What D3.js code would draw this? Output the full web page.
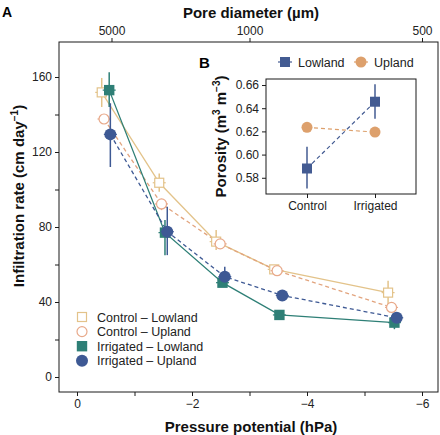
<!DOCTYPE html>
<html><head><meta charset="utf-8">
<script src="https://cdn.jsdelivr.net/npm/d3@7"></script>
<style>body{margin:0;background:#fff}svg{display:block}text{font-family:"Liberation Sans",Arial,sans-serif}</style>
</head><body><svg id="c" width="440" height="435"></svg>
<script>
// ---- data (panel A) ----
const seriesNames = ["Control – Lowland","Control – Upland","Irrigated – Lowland","Irrigated – Upland"];
const pressureCL = [-0.43,-1.43,-2.42,-3.43,-5.41];
const pressureCU = [-0.47,-1.47,-2.49,-3.48,-5.47];
const pressureIL = [-0.56,-1.53,-2.53,-3.52,-5.52];
const pressureIU = [-0.58,-1.57,-2.57,-3.57,-5.56];
const rateCL = [151.8,103.6,72.2,57.4,45.0];
const rateCU = [137.6,92.3,71.0,56.7,37.1];
const rateIL = [153.0,77.0,50.3,33.1,29.0];
const rateIU = [129.4,77.5,53.5,43.5,31.6];
const lowCL = [144,98.8,67.7,55.5,38.0];
const highCL = [159.5,108.6,78.4,59.3,51.4];
const lowCU = [135,89,68.5,55,34.5];
const highCU = [140,95,73.5,58.5,39.5];
const lowIL = [144,65,48,31.5,25.5];
const highIL = [162.5,83.7,52.5,34.7,31.5];
const lowIU = [112,65,50.8,42,30];
const highIU = [146,90.8,58.8,45,33.2];
const yTicks = [0,20,40,60,80,100,120,140,160];
const yTickLabels = ["0","","40","","80","","120","","160"];
const xTicks = [0,-1,-2,-3,-4,-5,-6];
const xTickLabels = ["0","","−2","","−4","","−6"];
const poreTicks = [5000,1000,500];
// ---- data (panel B) ----
const treatments = ["Control","Irrigated"];
const porLowland = [0.588,0.6456];
const porLowlandLo = [0.5708,0.631];
const porLowlandHi = [0.6067,0.6606];
const porUpland = [0.6235,0.6194];
const porUplandLo = [0.6215,0.6165];
const porUplandHi = [0.6255,0.6225];
const porTicks = [0.58,0.60,0.62,0.64,0.66];

const svg = d3.select("#c");
const col = {CL:"#E3C38A", CU:"#E8A98A", IL:"#2E7F76", IU:"#3E5994", lineCU:"#E2A47E"};

const x = d3.scaleLinear().domain([0.313,-6.278]).range([59,438]);
const y = d3.scaleLinear().domain([-8,178.67]).range([392,42]);

// panel frame
const g = svg.append("g");
g.append("rect").attr("x",59).attr("y",42).attr("width",379).attr("height",350)
 .attr("fill","none").attr("stroke","#1a1a1a").attr("stroke-width",1);

// axes
const axL = d3.axisLeft(y).tickValues(yTicks).tickFormat((d,i)=>yTickLabels[i]).tickSize(4).tickPadding(3);
const axB = d3.axisBottom(x).tickValues(xTicks).tickFormat((d,i)=>xTickLabels[i]).tickSize(4).tickPadding(3);
const poreToP = d => -3000/d;
const axT = d3.axisTop(x).tickValues(poreTicks.map(poreToP)).tickFormat((d,i)=>String(poreTicks[i])).tickSize(4).tickPadding(3);
function styleAx(sel){sel.select(".domain").remove();sel.selectAll("line").attr("stroke","#1a1a1a");
 sel.selectAll("text").attr("font-size",12).attr("fill","#222").attr("font-family","Liberation Sans, Arial, sans-serif");}
g.append("g").attr("transform","translate(59,0)").call(axL).call(styleAx);
g.append("g").attr("transform","translate(0,392)").call(axB).call(styleAx);
g.append("g").attr("transform","translate(0,42)").call(axT).call(styleAx);

// titles
svg.append("text").attr("x",251).attr("y",432).attr("text-anchor","middle").attr("font-size",15).attr("font-weight","bold").attr("fill","#111").text("Pressure potential (hPa)");
svg.append("text").attr("x",251).attr("y",18).attr("text-anchor","middle").attr("font-size",15).attr("font-weight","bold").attr("fill","#111").text("Pore diameter (µm)");
const yt = svg.append("text").attr("transform","translate(24,196) rotate(-90)").attr("text-anchor","middle").attr("font-size",15).attr("font-weight","bold").attr("fill","#111");
yt.append("tspan").text("Infiltration rate (cm day");
yt.append("tspan").attr("font-size",10).attr("dy",-6).text("−1");
yt.append("tspan").attr("dy",6).text(")");
svg.append("text").attr("x",2).attr("y",17).attr("font-size",14).attr("font-weight","bold").text("A");

// series
const series = [
 {k:"CL", xs:pressureCL, ys:rateCL, lo:lowCL, hi:highCL, shape:"square", open:true, dash:null, line:col.CL},
 {k:"CU", xs:pressureCU, ys:rateCU, lo:lowCU, hi:highCU, shape:"circle", open:true, dash:"4,3", line:col.lineCU},
 {k:"IL", xs:pressureIL, ys:rateIL, lo:lowIL, hi:highIL, shape:"square", open:false, dash:null, line:col.IL},
 {k:"IU", xs:pressureIU, ys:rateIU, lo:lowIU, hi:highIU, shape:"circle", open:false, dash:"4,3", line:col.IU}
];
const line = d3.line().x(d=>x(d[0])).y(d=>y(d[1]));
series.forEach(s=>{
 g.append("path").datum(s.xs.map((v,i)=>[v,s.ys[i]])).attr("d",line).attr("fill","none")
  .attr("stroke",s.line).attr("stroke-width",1.3).attr("stroke-dasharray",s.dash);
});
function drawSym(parent, shape, open, c, cx, cy){
 if(shape==="square"){
  const h = open?4.5:5.2;
  parent.append("rect").attr("x",cx-h).attr("y",cy-h).attr("width",2*h).attr("height",2*h)
   .attr("fill",open?"#fff":c).attr("stroke",c).attr("stroke-width",open?1.2:0);
 } else {
  parent.append("circle").attr("cx",cx).attr("cy",cy).attr("r",open?5:6)
   .attr("fill",open?"#fff":c).attr("stroke",c).attr("stroke-width",open?1.2:0);
 }
}
series.forEach(s=>{
 const c = col[s.k];
 s.xs.forEach((v,i)=>{
  g.append("line").attr("x1",x(v)).attr("x2",x(v)).attr("y1",y(s.lo[i])).attr("y2",y(s.hi[i])).attr("stroke",c).attr("stroke-width",1.5);
  g.append("line").attr("x1",x(v)-6.5).attr("x2",x(v)+6.5).attr("y1",y(s.ys[i])).attr("y2",y(s.ys[i])).attr("stroke",c).attr("stroke-width",1.2);
  drawSym(g, s.shape, s.open, c, x(v), y(s.ys[i]));
 });
});
// legend A
series.forEach((s,i)=>{
 const yy = 317 + i*14.6;
 drawSym(svg, s.shape, s.open, col[s.k], 82, yy);
 svg.append("text").attr("x",97).attr("y",yy+4.5).attr("font-size",12.5).attr("fill","#222").text(seriesNames[i]);
});

// ---- inset B ----
const bx = d3.scalePoint().domain(treatments).range([307,375]);
const by = d3.scaleLinear().domain([0.566,0.6652]).range([194,79]);
const gb = svg.append("g");
gb.append("rect").attr("x",266).attr("y",79).attr("width",150).attr("height",115).attr("fill","#fff").attr("stroke","#1a1a1a").attr("stroke-width",1);
const bL = d3.axisLeft(by).tickValues(porTicks).tickFormat(d3.format(".2f")).tickSize(4).tickPadding(3);
const bB = d3.axisBottom(bx).tickSize(4).tickPadding(3);
gb.append("g").attr("transform","translate(266,0)").call(bL).call(styleAx);
gb.append("g").attr("transform","translate(0,194)").call(bB).call(styleAx);
const pt = svg.append("text").attr("transform","translate(226,136.5) rotate(-90)").attr("text-anchor","middle").attr("font-size",15).attr("font-weight","bold").attr("fill","#111");
pt.append("tspan").text("Porosity (m");
pt.append("tspan").attr("font-size",10).attr("dy",-6).text("3");
pt.append("tspan").attr("dy",6).text(" m");
pt.append("tspan").attr("font-size",10).attr("dy",-6).text("−3");
pt.append("tspan").attr("dy",6).text(")");
svg.append("text").attr("x",199).attr("y",68).attr("font-size",15).attr("font-weight","bold").text("B");

const bcol = {Lowland:"#435B92", Upland:"#DDA06C"};
const bser = [
 {n:"Upland", v:porUpland, lo:porUplandLo, hi:porUplandHi, shape:"circle"},
 {n:"Lowland", v:porLowland, lo:porLowlandLo, hi:porLowlandHi, shape:"square"}
];
const bline = d3.line().x(d=>bx(d[0])).y(d=>by(d[1]));
bser.forEach(s=>{
 gb.append("path").datum(treatments.map((t,i)=>[t,s.v[i]])).attr("d",bline).attr("fill","none")
  .attr("stroke",bcol[s.n]).attr("stroke-width",1.2).attr("stroke-dasharray","4,3");
});
bser.forEach(s=>{
 treatments.forEach((t,i)=>{
  gb.append("line").attr("x1",bx(t)).attr("x2",bx(t)).attr("y1",by(s.lo[i])).attr("y2",by(s.hi[i])).attr("stroke",bcol[s.n]).attr("stroke-width",1.5);
  if(s.shape==="square") gb.append("rect").attr("x",bx(t)-5).attr("y",by(s.v[i])-5).attr("width",10).attr("height",10).attr("fill",bcol[s.n]);
  else gb.append("circle").attr("cx",bx(t)).attr("cy",by(s.v[i])).attr("r",5.5).attr("fill",bcol[s.n]);
 });
});
// legend B
const legB = [{n:"Lowland",x:285,shape:"square"},{n:"Upland",x:361,shape:"circle"}];
legB.forEach(l=>{
 svg.append("line").attr("x1",l.x-7).attr("x2",l.x+7).attr("y1",62).attr("y2",62).attr("stroke",bcol[l.n]).attr("stroke-width",1.2);
 if(l.shape==="square") svg.append("rect").attr("x",l.x-5).attr("y",57).attr("width",10).attr("height",10).attr("fill",bcol[l.n]);
 else svg.append("circle").attr("cx",l.x).attr("cy",62).attr("r",5.5).attr("fill",bcol[l.n]);
 svg.append("text").attr("x",l.x+13).attr("y",66.5).attr("font-size",12.5).attr("fill","#222").text(l.n);
});
</script></body></html>
